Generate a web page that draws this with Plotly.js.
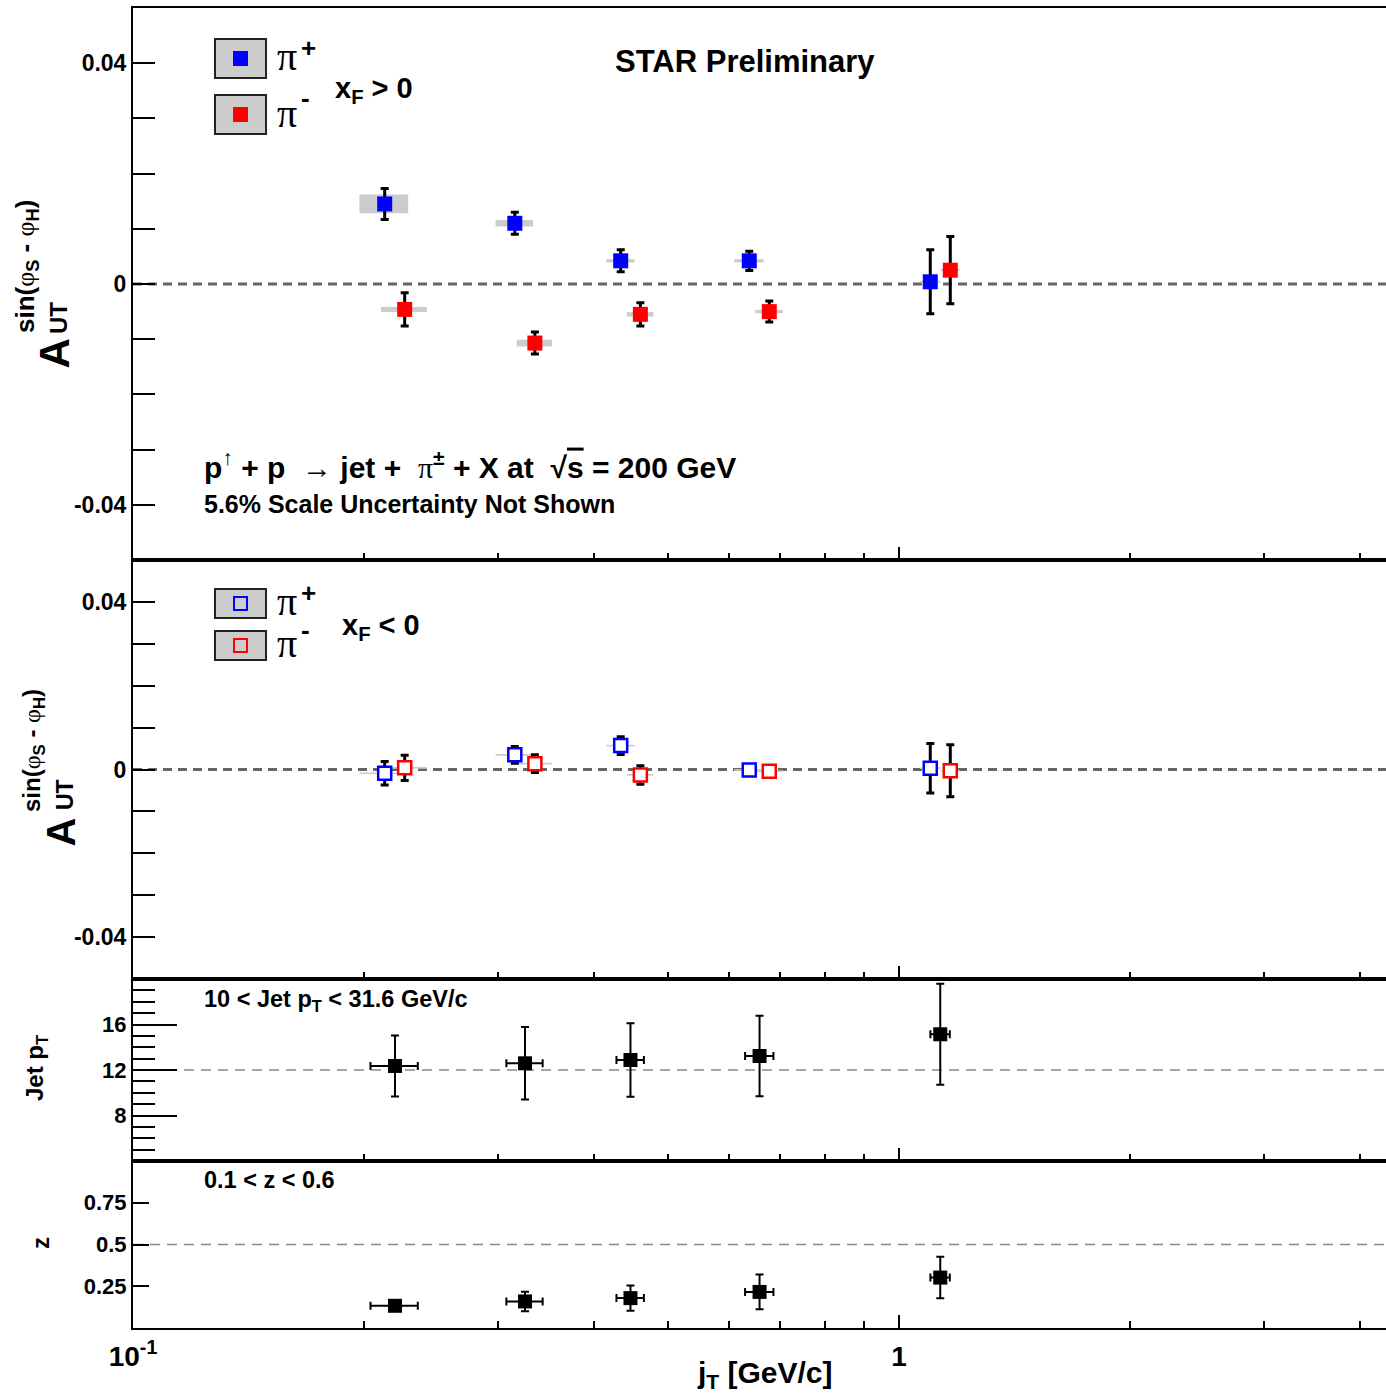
<!DOCTYPE html>
<html><head><meta charset="utf-8">
<script src="https://cdn.plot.ly/plotly-3.0.1.min.js"></script>
<style>html,body{margin:0;padding:0;background:#fff}</style>
</head><body><div id="plot" style="width:1386px;height:1399px"></div>
<script>
// ---------- data ----------
// jT bin centres and horizontal (jT) uncertainties
const jT      = [0.2198, 0.3249, 0.4461, 0.6576, 1.132];
const jTErr   = [0.0156, 0.0177, 0.0184, 0.028, 0.033];
// displayed (offset) jT positions of the pion points
const pipX    = [0.2131, 0.3151, 0.4332, 0.6376, 1.0986];
const pimX    = [0.2263, 0.3347, 0.4596, 0.6771, 1.1667];

// xF > 0
const pipPosA    = [0.0145, 0.0110, 0.0042, 0.0042, 0.0004];
const pipPosStat = [0.0028, 0.0020, 0.0020, 0.00175, 0.0058];
const pipPosSys  = [0.0017, 0.0006, 0.0003, 0.0003, 0.0002];
const pimPosA    = [-0.0046, -0.0107, -0.0055, -0.0050, 0.0025];
const pimPosStat = [0.0030, 0.0020, 0.0021, 0.0019, 0.0061];
const pimPosSys  = [0.00045, 0.0006, 0.0004, 0.0003, 0.0002];

// xF < 0
const pipNegA    = [-0.0009, 0.0035, 0.0057, -0.0001, 0.0003];
const pipNegStat = [0.0028, 0.0020, 0.0021, 0.0008, 0.0059];
const pipNegSys  = [0.0002, 0.0002, 0.0002, 0.0002, 0.0002];
const pimNegA    = [0.0004, 0.0014, -0.0013, -0.0004, -0.0003];
const pimNegStat = [0.0030, 0.0021, 0.0022, 0.0008, 0.0062];
const pimNegSys  = [0.0002, 0.0002, 0.0002, 0.0002, 0.0002];

// jet pT and z per jT bin
const jetPt    = [12.35, 12.59, 12.88, 13.23, 15.14];
const jetPtErr = [2.68, 3.18, 3.24, 3.54, 4.44];
const zVal     = [0.133, 0.159, 0.179, 0.216, 0.302];
const zErr     = [0.020, 0.058, 0.076, 0.104, 0.124];

// reference (dashed) levels per panel
const refLevels = [0, 0, 12, 0.5];

// tick labels
const xTickVals  = [0.1, 1];
const xTickText  = ['10<sup>-1</sup>', '1'];
const xMinorVals = [0.2,0.3,0.4,0.5,0.6,0.7,0.8,0.9,2,3,4];
const aTickVals  = [-0.04, 0, 0.04];
const aTickText  = ['-0.04', '0', '0.04'];
const ptTickVals = [8, 12, 16];
const ptTickText = ['8', '12', '16'];
const zTickVals  = [0.25, 0.5, 0.75];
const zTickText  = ['0.25', '0.5', '0.75'];

// ---------- geometry helpers ----------
const ML = 133, MT = 8, MB = 71, WW = 1386, HH = 1399;
const PW = WW - ML, PH = HH - MT - MB;
const px = x => (x - ML) / PW;
const py = y => (MT + PH - y) / PH;

const BLUE = '#0000ff', RED = '#ff0000';
const FONT = 'Liberation Sans, Arial, Helvetica, sans-serif';
const SERIF = 'Liberation Serif, Times New Roman, serif';

function errY(arr, th, w) { return {type:'data', array: arr, visible:true, color:'black', thickness: th, width: w}; }

const traces = [
  // panel 1 (xF > 0)
  {x: pipX, y: pipPosA, xaxis:'x', yaxis:'y', mode:'markers', type:'scatter',
   marker:{symbol:'square', size:15, color:BLUE}, error_y: errY(pipPosStat, 3, 4)},
  {x: pimX, y: pimPosA, xaxis:'x', yaxis:'y', mode:'markers', type:'scatter',
   marker:{symbol:'square', size:15, color:RED}, error_y: errY(pimPosStat, 3, 4)},
  // panel 2 (xF < 0)
  {x: pipX, y: pipNegA, xaxis:'x2', yaxis:'y2', mode:'markers', type:'scatter',
   marker:{symbol:'square', size:13, color:'white', line:{width:2.5, color:BLUE}}, error_y: errY(pipNegStat, 3, 4)},
  {x: pimX, y: pimNegA, xaxis:'x2', yaxis:'y2', mode:'markers', type:'scatter',
   marker:{symbol:'square', size:13, color:'white', line:{width:2.5, color:RED}}, error_y: errY(pimNegStat, 3, 4)},
  // panel 3 (jet pT)
  {x: jT, y: jetPt, xaxis:'x3', yaxis:'y3', mode:'markers', type:'scatter',
   marker:{symbol:'square', size:14, color:'black'}, error_y: errY(jetPtErr, 2, 4),
   error_x: {type:'data', array: jTErr, visible:true, color:'black', thickness:2, width:4}},
  // panel 4 (z)
  {x: jT, y: zVal, xaxis:'x4', yaxis:'y4', mode:'markers', type:'scatter',
   marker:{symbol:'square', size:14, color:'black'}, error_y: errY(zErr, 2, 4),
   error_x: {type:'data', array: jTErr, visible:true, color:'black', thickness:2, width:4}},
];

// ---------- shapes ----------
const shapes = [];
function sysBoxes(xs, ys, sys, xr, yr) {
  xs.forEach((x, i) => shapes.push({type:'rect', xref:xr, yref:yr, layer:'below',
    x0: x - jTErr[i], x1: x + jTErr[i], y0: ys[i] - sys[i], y1: ys[i] + sys[i],
    fillcolor:'#cccccc', line:{width:0}}));
}
sysBoxes(pipX, pipPosA, pipPosSys, 'x', 'y');
sysBoxes(pimX, pimPosA, pimPosSys, 'x', 'y');
sysBoxes(pipX, pipNegA, pipNegSys, 'x2', 'y2');
sysBoxes(pimX, pimNegA, pimNegSys, 'x2', 'y2');

const refStyles = [
  {color:'#666666', width:3, dash:'9px,6px'},
  {color:'#666666', width:3, dash:'9px,6px'},
  {color:'#888888', width:1.5, dash:'10px,7px'},
  {color:'#888888', width:1.5, dash:'10px,7px'}];
['x','x2','x3','x4'].forEach((xa, i) => {
  const ya = ['y','y2','y3','y4'][i];
  shapes.push({type:'line', xref: xa + ' domain', x0:0, x1:1, yref: ya, y0: refLevels[i], y1: refLevels[i],
    layer:'below', line: refStyles[i]});
});

// legend boxes (decoration, paper coords)
function legBox(x0, y0, x1, y1) {
  shapes.push({type:'rect', xref:'paper', yref:'paper', x0:px(x0), x1:px(x1), y0:py(y1), y1:py(y0),
    fillcolor:'#cccccc', line:{color:'#222', width:2}});
}
function legMark(cx, cy, s, col, open) {
  shapes.push({type:'rect', xref:'paper', yref:'paper', x0:px(cx - s/2), x1:px(cx + s/2), y0:py(cy + s/2), y1:py(cy - s/2),
    fillcolor: open ? 'rgba(0,0,0,0)' : col, line: open ? {color:col, width:2} : {width:0}});
}
legBox(215, 39, 266, 78);  legMark(240.5, 58.5, 15, BLUE, false);
legBox(215, 95, 266, 134); legMark(240.5, 114.5, 15, RED, false);
legBox(215, 589, 266, 618); legMark(240.5, 603.5, 13, BLUE, true);
legBox(215, 631, 266, 660); legMark(240.5, 645.5, 13, RED, true);

// ---------- annotations ----------
const anns = [];
function ann(text, x, y, size, opt) {
  opt = opt || {};
  const bold = opt.w !== 'normal';
  anns.push({text: bold ? '<b>' + text + '</b>' : text, xref:'paper', yref:'paper', x: px(x), y: py(y),
    xanchor: opt.xa || 'left', yanchor: opt.ya || 'middle', showarrow:false,
    textangle: opt.rot || 0,
    font:{family: opt.fam || FONT, size: size, color:'black'}});
}
const piSpan = '<span style="font-family:Liberation Serif;font-weight:normal">π</span>';
ann('STAR Preliminary', 613, 62, 31);
ann('x<sub>F</sub> &gt; 0', 333, 90, 29);
ann('π', 275, 57, 40, {fam:SERIF, w:'normal'});
ann('+', 299, 48.5, 26);
ann('π', 275, 113, 40, {fam:SERIF, w:'normal'});
ann('-', 299, 98, 26);
ann('p<sup>↑</sup> + p  → jet +  ' + piSpan + '<sup>±</sup> + X at  √<span style="text-decoration:overline">s</span> = 200 GeV', 202, 465, 30);
ann('5.6% Scale Uncertainty Not Shown', 202, 504, 25);
ann('π', 275, 601.5, 40, {fam:SERIF, w:'normal'});
ann('+', 299, 593, 26);
ann('π', 275, 643.5, 40, {fam:SERIF, w:'normal'});
ann('-', 299, 630, 26);
ann('x<sub>F</sub> &lt; 0', 340, 627, 29);
ann('10 &lt; Jet p<sub>T</sub> &lt; 31.6 GeV/c', 202, 1001, 23.5);
ann('0.1 &lt; z &lt; 0.6', 202, 1180, 23.5);
ann('j<sub>T</sub> [GeV/c]', 835, 1374, 30, {xa:'right'});
// y titles (rotated)
const phiS = '<span style="font-family:Liberation Serif;font-weight:normal">φ</span>';
ann('A', 54, 353.5, 42, {xa:'center', rot:-90});
ann('UT', 58.5, 318.5, 24, {xa:'center', rot:-90});
ann('sin(' + phiS + '<sub>S</sub> - ' + phiS + '<sub>H</sub>)', 27, 267, 26, {xa:'center', rot:-90});
ann('A', 60, 832.5, 40, {xa:'center', rot:-90});
ann('UT', 65, 795, 23, {xa:'center', rot:-90});
ann('sin(' + phiS + '<sub>S</sub> - ' + phiS + '<sub>H</sub>)', 33, 751, 24, {xa:'center', rot:-90});
ann('Jet p<sub>T</sub>', 36, 1068, 24, {xa:'center', rot:-90});
ann('z', 40, 1243, 24, {xa:'center', rot:-90});

// ---------- axes ----------
const dom4 = [0, (MT + PH - 1161) / PH];
const dom3 = [dom4[1], (MT + PH - 979) / PH];
const dom2 = [dom3[1], (MT + PH - 560) / PH];
const dom1 = [dom2[1], 1];

function xAxis(anchor, labels) {
  return {type:'log', range:[-1, -1 + PW / 766], anchor: anchor, domain:[0,1],
    showline:true, linecolor:'black', linewidth:2, mirror:true,
    ticks:'inside', tickmode:'array', tickvals: xTickVals, ticktext: xTickText,
    ticklen:13, tickwidth:2, tickcolor:'black',
    minor:{tickmode:'array', tickvals: xMinorVals, ticks:'inside', ticklen:7, tickwidth:2, tickcolor:'black', showgrid:false},
    showticklabels: labels, tickfont:{family:FONT, size:28, color:'black', weight:'bold'},
    ticklabelstandoff: 2,
    showgrid:false, zeroline:false, fixedrange:true};
}
function yAxis(anchor, dom, range, vals, text, len, size, minor) {
  const a = {domain: dom, range: range, anchor: anchor, showline:true, linecolor:'black', linewidth:2,
    mirror:false, ticks:'inside', tickmode:'array', tickvals: vals, ticktext: text,
    ticklen: len, tickwidth:2, tickcolor:'black',
    tickfont:{family:FONT, size:size, color:'black', weight:'bold'},
    showgrid:false, zeroline:false, fixedrange:true};
  if (minor) a.minor = minor;
  return a;
}
const aMinor = {tickmode:'linear', tick0:0, dtick:0.01, ticks:'inside', ticklen:22, tickwidth:2, tickcolor:'black', showgrid:false};

const layout = {
  width: WW, height: HH, margin:{l:ML, r:0, t:MT, b:MB, pad:0},
  paper_bgcolor:'white', plot_bgcolor:'white', showlegend:false,
  xaxis:  xAxis('y', false),
  xaxis2: xAxis('y2', false),
  xaxis3: xAxis('y3', false),
  xaxis4: xAxis('y4', true),
  yaxis:  yAxis('x',  dom1, [-0.05, 0.05], aTickVals, aTickText, 22, 23, aMinor),
  yaxis2: yAxis('x2', dom2, [-0.05, 0.05], aTickVals, aTickText, 22, 23, aMinor),
  yaxis3: yAxis('x3', dom3, [4, 20], ptTickVals, ptTickText, 44, 22,
     {tickmode:'linear', tick0:0, dtick:1, ticks:'inside', ticklen:22, tickwidth:2, tickcolor:'black', showgrid:false}),
  yaxis4: yAxis('x4', dom4, [0, 1], zTickVals, zTickText, 16, 22),
  shapes: shapes,
  annotations: anns
};

Plotly.newPlot('plot', traces, layout, {displayModeBar:false});
</script></body></html>
